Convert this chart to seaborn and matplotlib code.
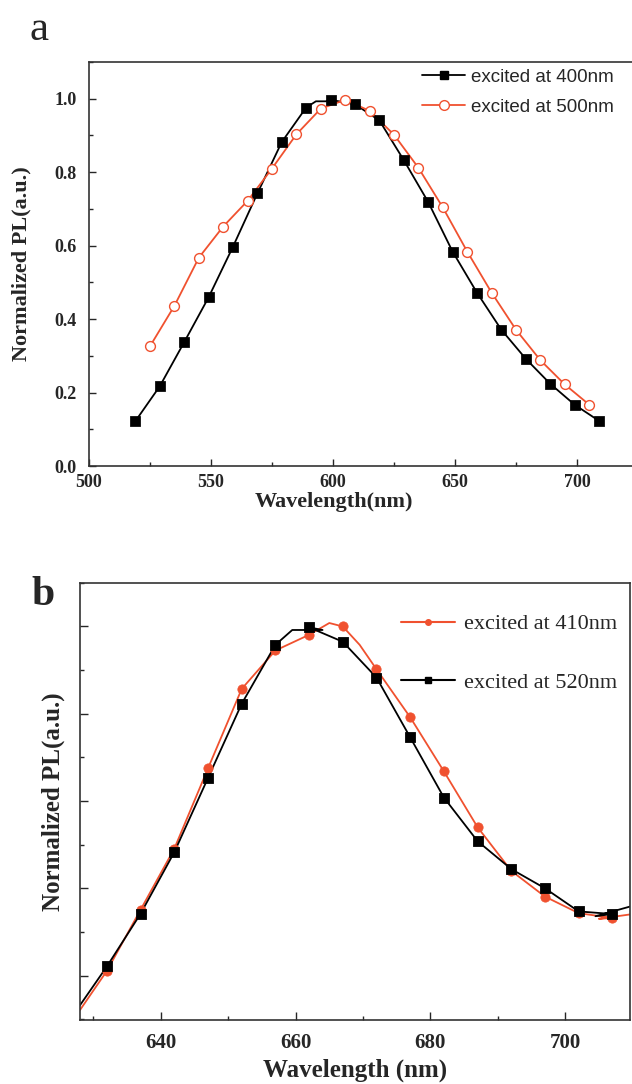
import matplotlib
matplotlib.use("Agg")
import matplotlib.pyplot as plt
import seaborn as sns
from matplotlib.lines import Line2D
from matplotlib.ticker import MultipleLocator, NullFormatter

# =========================
# DATA - panel a
# =========================
a_x_400 = [519, 529, 539, 549, 559, 569, 579, 589, 599, 609,
           619, 629, 639, 649, 659, 669, 679, 689, 699, 709]
a_y_400 = [0.122, 0.217, 0.337, 0.459, 0.597, 0.742, 0.882, 0.976, 0.997, 0.985,
           0.941, 0.833, 0.719, 0.584, 0.472, 0.371, 0.292, 0.224, 0.167, 0.123]
a_x_500 = [525, 535, 545, 555, 565, 575, 585, 595, 605, 615,
           625, 635, 645, 655, 665, 675, 685, 695, 705]
a_y_500 = [0.326, 0.436, 0.567, 0.652, 0.722, 0.810, 0.903, 0.973, 0.997, 0.967,
           0.902, 0.812, 0.704, 0.584, 0.472, 0.371, 0.288, 0.222, 0.167]

# extra points
a_line_x_400 = a_x_400[:8] + [593, 597] + a_x_400[8:]
a_line_y_400 = a_y_400[:8] + [0.993, 0.993] + a_y_400[8:]

# =========================
# DATA - panel b
# =========================
b_x = [632, 637, 642, 647, 652, 657, 662, 667,
       672, 677, 682, 687, 692, 697, 702, 707]
b_y_520 = [0.221, 0.342, 0.483, 0.653, 0.823, 0.958, 0.998, 0.965,
           0.883, 0.746, 0.608, 0.508, 0.444, 0.400, 0.347, 0.341]
b_y_410 = [0.211, 0.351, 0.491, 0.675, 0.857, 0.945, 0.981, 1.000,
           0.902, 0.792, 0.668, 0.540, 0.440, 0.381, 0.343, 0.332]

b_line_x_520 = [628.0] + b_x[:6] + [659.5, 664.0] + b_x[6:] + [704.5, 709.6]
b_line_y_520 = [0.132] + b_y_520[:6] + [0.992, 0.992] + b_y_520[6:] + [0.336, 0.358]
b_line_x_410 = [628.0] + b_x[:7] + [665.0] + b_x[7:8] + [669.5] + b_x[8:] + [705.0, 709.6]
b_line_y_410 = [0.121] + b_y_410[:7] + [1.008] + b_y_410[7:8] + [0.958] + b_y_410[8:] + [0.330, 0.340]

RED = "#f0512f"

sns.set_style("ticks")
plt.rcParams["font.family"] = ["Liberation Serif", "DejaVu Serif"]
plt.rcParams["xtick.direction"] = "in"
plt.rcParams["ytick.direction"] = "in"

fig = plt.figure(figsize=(6.32, 10.84), dpi=100)

# =========================
# PANEL A
# =========================
ax1 = fig.add_axes([0.1408, 0.5701, 0.8687, 0.3727])
sns.lineplot(x=a_line_x_400, y=a_line_y_400, ax=ax1, color="black", lw=1.3,
             sort=False, estimator=None)
sns.lineplot(x=a_x_500, y=a_y_500, ax=ax1, color=RED, lw=1.3,
             sort=False, estimator=None)
sns.scatterplot(x=a_x_400, y=a_y_400, ax=ax1, marker="s", s=45,
                color="black", edgecolor="black", zorder=4)
sns.scatterplot(x=a_x_500, y=a_y_500, ax=ax1, marker="o", s=50,
                facecolor="white", edgecolor=RED, linewidth=1.0, zorder=4)

ax1.set_xlim(500, 725)
ax1.set_ylim(0, 1.1)
ax1.xaxis.set_major_locator(MultipleLocator(50))
ax1.xaxis.set_minor_locator(MultipleLocator(25))
ax1.yaxis.set_major_locator(MultipleLocator(0.2))
ax1.yaxis.set_minor_locator(MultipleLocator(0.1))
ax1.tick_params(which="major", length=5, width=1, labelsize=13)
ax1.tick_params(axis="y", which="major", pad=9)
ax1.tick_params(axis="x", which="major", pad=6)
ax1.tick_params(which="minor", length=3, width=1)
for lbl in ax1.get_xticklabels() + ax1.get_yticklabels():
    lbl.set_fontweight("bold")
ax1.set_xlabel("Wavelength(nm)", fontsize=16, fontweight="bold")
ax1.xaxis.set_label_coords(0.446, -0.064)
ax1.set_ylabel("Normalized PL(a.u.)", fontsize=16, fontweight="bold")
ax1.yaxis.set_label_coords(-0.105, 0.5)
for sp in ax1.spines.values():
    sp.set_linewidth(1.2)
    sp.set_color("#333333")

handles_a = [
    Line2D([], [], color="black", lw=1.3, marker="s", markersize=6),
    Line2D([], [], color=RED, lw=1.3, marker="o", markersize=7,
           markerfacecolor="white", markeredgecolor=RED),
]
ax1.legend(handles_a, ["excited at 400nm", "excited at 500nm"],
           loc="upper left", bbox_to_anchor=(0.6, 0.993), borderaxespad=0.0,
           borderpad=0.2, frameon=False,
           prop={"family": "Liberation Sans", "size": 13.5},
           handlelength=2.3, handletextpad=0.3, labelspacing=0.7)

fig.text(0.047, 0.963, "a", fontsize=31, ha="left", va="baseline")

# =========================
# PANEL B
# =========================
ax2 = fig.add_axes([0.1266, 0.059, 0.870, 0.4033])
sns.lineplot(x=b_line_x_410, y=b_line_y_410, ax=ax2, color=RED, lw=1.3,
             sort=False, estimator=None)
sns.lineplot(x=b_line_x_520, y=b_line_y_520, ax=ax2, color="black", lw=1.3,
             sort=False, estimator=None)
sns.scatterplot(x=b_x, y=b_y_410, ax=ax2, marker="o", s=45,
                color=RED, edgecolor=RED, zorder=4)
sns.scatterplot(x=b_x, y=b_y_520, ax=ax2, marker="s", s=55,
                color="black", edgecolor="black", zorder=5)

ax2.set_xlim(628.0, 709.6)
ax2.set_ylim(0.098, 1.10)
ax2.xaxis.set_major_locator(MultipleLocator(20))
ax2.xaxis.set_minor_locator(MultipleLocator(10))
ax2.yaxis.set_major_locator(MultipleLocator(0.2))
ax2.yaxis.set_minor_locator(MultipleLocator(0.1))
ax2.yaxis.set_major_formatter(NullFormatter())
ax2.tick_params(which="major", length=6, width=1, labelsize=15, pad=9)
ax2.tick_params(which="minor", length=3, width=1)
for lbl in ax2.get_xticklabels():
    lbl.set_fontweight("bold")
ax2.set_xlabel("Wavelength (nm)", fontsize=18, fontweight="bold", labelpad=4)
ax2.set_ylabel("Normalized PL(a.u.)", fontsize=18, fontweight="bold", labelpad=2)
for sp in ax2.spines.values():
    sp.set_linewidth(1.2)
    sp.set_color("#333333")

handles_b = [
    Line2D([], [], color=RED, lw=1.5, marker="o", markersize=4),
    Line2D([], [], color="black", lw=1.5, marker="s", markersize=4),
]
ax2.legend(handles_b, ["excited at 410nm", "excited at 520nm"],
           loc="upper left", bbox_to_anchor=(0.548, 0.975), frameon=False,
           prop={"family": "Liberation Serif", "size": 16},
           handlelength=2.4, handletextpad=0.4, labelspacing=1.7)

fig.text(0.05, 0.442, "b", fontsize=30, fontweight="bold", ha="left", va="baseline")

fig.savefig("out.png", dpi=100)
